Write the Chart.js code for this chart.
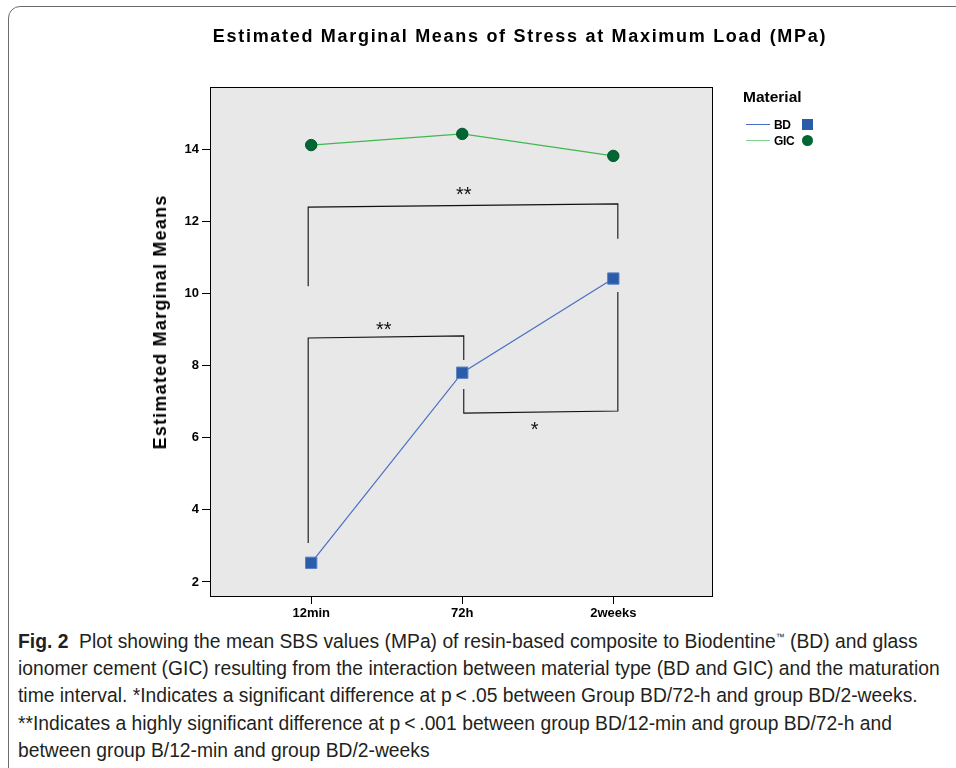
<!DOCTYPE html>
<html>
<head>
<meta charset="utf-8">
<script src="https://cdn.jsdelivr.net/npm/chart.js@4.4.1/dist/chart.umd.min.js"></script>
<style>
  html, body { margin: 0; padding: 0; background: #fff; }
  body { width: 956px; height: 768px; position: relative; overflow: hidden;
         font-family: 'Liberation Sans', Arial, sans-serif; color: #000; }
  #frame { position: absolute; left: 8px; top: 6px; width: 980px; height: 790px;
           border: 1px solid #6b6b6b; border-radius: 12px; }
  #wrap { position: absolute; left: 0; top: 0; width: 956px; height: 625px; }
  #title { position: absolute; left: 0; top: 25px; width: 1040px; text-align: center;
           font-weight: bold; font-size: 18px; line-height: 22px; letter-spacing: 1.7px; }
  #ytitle { position: absolute; left: 160px; top: 322px; white-space: nowrap;
            transform: translate(-50%, -50%) rotate(-90deg);
            font-weight: bold; font-size: 18px; line-height: 20px; letter-spacing: 1.2px; }
  #legend { position: absolute; left: 743px; top: 87px; font-weight: bold; }
  #legend .head { font-size: 15.5px; line-height: 20px; }
  #legend .row { position: relative; height: 16px; font-size: 12px; line-height: 16px; letter-spacing: -0.3px; }
  #legend .row .ln { position: absolute; left: 3px; top: 7px; width: 24px; height: 0; border-top: 1.5px solid; }
  #legend .row .lb { position: absolute; left: 31px; top: 0; }
  #legend .row .mk { position: absolute; left: 59px; top: 2px; width: 11px; height: 11px; }
  #caption { position: absolute; left: 18px; top: 628px; width: 940px;
             font-size: 19.3px; line-height: 27.2px; color: #231f20; white-space: nowrap; }
  #caption b { font-weight: bold; }
  #caption sup { font-size: 9px; vertical-align: 8px; line-height: 0; }
</style>
</head>
<body>
<div id="frame"></div>
<div id="wrap"><canvas id="emm" width="956" height="625"></canvas></div>
<div id="title">Estimated Marginal Means of Stress at Maximum Load (MPa)</div>
<div id="ytitle">Estimated Marginal Means</div>
<div id="legend">
  <div class="head">Material</div>
  <div class="row" style="margin-top:10px">
    <span class="ln" style="border-color:#4a70c4"></span><span class="lb">BD</span>
    <span class="mk" style="background:#2a5caa"></span>
  </div>
  <div class="row">
    <span class="ln" style="border-color:#7fd08a"></span><span class="lb">GIC</span>
    <span class="mk" style="background:#006633;border-radius:50%"></span>
  </div>
</div>
<div id="caption">
  <b>Fig. 2</b>&nbsp; Plot showing the mean SBS values (MPa) of resin-based composite to Biodentine<sup>™</sup> (BD) and glass<br>
  ionomer cement (GIC) resulting from the interaction between material type (BD and GIC) and the maturation<br>
  time interval. *Indicates a significant difference at p&thinsp;&lt;&thinsp;.05 between Group BD/72-h and group BD/2-weeks.<br>
  **Indicates a highly significant difference at p&thinsp;&lt;&thinsp;.001 between group BD/12-min and group BD/72-h and<br>
  between group B/12-min and group BD/2-weeks
</div>

<script>
// values
const categories = ['12min', '72h', '2weeks'];
const bdMeans = [2.53, 7.80, 10.41];
const gicMeans = [14.11, 14.42, 13.81];
const yTickValues = [2, 4, 6, 8, 10, 12, 14];

// significance brackets, in axis units (x = category index)
const bracketLong = [[-0.02, 10.20], [-0.02, 12.39], [2.03, 12.48], [2.03, 11.51]];
const bracketEarly = [[-0.02, 3.08], [-0.02, 8.76], [1.01, 8.82], [1.01, 8.15]];
const bracketLate = [[1.01, 7.35], [1.01, 6.68], [2.03, 6.74], [2.03, 10.04]];
const starText = ['**', '**', '*'];
const starX = [1.01, 0.48, 1.48];
const starY = [12.81, 9.09, 6.32];

Chart.defaults.font.family = "'Liberation Sans', Arial, sans-serif";
Chart.defaults.color = '#000';

const toPoints = (vals) => vals.map((v, i) => ({ x: i, y: v }));
const toPairs = (pairs) => pairs.map(p => ({ x: p[0], y: p[1] }));

const bracketStyle = {
  borderColor: '#111', borderWidth: 1.1, pointRadius: 0, tension: 0, fill: false,
};

// grey plot panel with black frame, like SPSS
const plotFrame = {
  id: 'plotFrame',
  beforeDatasetsDraw(chart) {
    const { ctx, chartArea: a } = chart;
    ctx.save();
    ctx.fillStyle = '#e8e8e8';
    ctx.fillRect(a.left, a.top, a.right - a.left, a.bottom - a.top);
    ctx.strokeStyle = '#000';
    ctx.lineWidth = 1;
    ctx.strokeRect(a.left + 0.5, a.top + 0.5, a.right - a.left - 1, a.bottom - a.top);
    ctx.restore();
  },
  afterDatasetsDraw(chart) {
    const { ctx, scales } = chart;
    ctx.save();
    ctx.fillStyle = '#111';
    ctx.font = "20px 'Liberation Sans', Arial, sans-serif";
    ctx.textAlign = 'center';
    ctx.textBaseline = 'middle';
    starText.forEach((t, i) => {
      ctx.fillText(t, scales.x.getPixelForValue(starX[i]), scales.y.getPixelForValue(starY[i]) + 4);
    });
    ctx.restore();
  },
};

new Chart(document.getElementById('emm'), {
  type: 'line',
  data: {
    datasets: [
      { label: 'bracketLong', data: toPairs(bracketLong), ...bracketStyle },
      { label: 'bracketEarly', data: toPairs(bracketEarly), ...bracketStyle },
      { label: 'bracketLate', data: toPairs(bracketLate), ...bracketStyle },
      {
        label: 'GIC', data: toPoints(gicMeans),
        borderColor: '#3fb84f', borderWidth: 1.2, tension: 0,
        pointStyle: 'circle', pointRadius: 5.7,
        pointBackgroundColor: '#006633', pointBorderColor: '#00552a', pointBorderWidth: 1,
      },
      {
        label: 'BD', data: toPoints(bdMeans),
        borderColor: '#4a70c4', borderWidth: 1.2, tension: 0,
        pointStyle: 'rect', pointRadius: 8,
        pointBackgroundColor: '#2a5caa', pointBorderColor: '#5a80c4', pointBorderWidth: 1,
      },
    ],
  },
  options: {
    responsive: false,
    animation: false,
    events: [],
    layout: { padding: { top: 87, right: 243, bottom: 0, left: 0 } },
    plugins: { legend: { display: false }, title: { display: false }, tooltip: { enabled: false } },
    scales: {
      x: {
        type: 'linear', min: -0.67, max: 2.66,
        afterBuildTicks: (s) => { s.ticks = categories.map((c, i) => ({ value: i })); },
        afterFit: (s) => { s.height = 29; },
        ticks: {
          callback: (v) => categories[v] ?? '',
          font: { size: 13, weight: 'bold' }, padding: 2, maxRotation: 0, autoSkip: false,
        },
        grid: { drawOnChartArea: false, drawTicks: true, tickLength: 8, color: '#000' },
        border: { display: false },
      },
      y: {
        type: 'linear', min: 1.61, max: 15.72,
        afterBuildTicks: (s) => { s.ticks = yTickValues.map(v => ({ value: v })); },
        afterFit: (s) => { s.width = 210; },
        ticks: { font: { size: 13, weight: 'bold' }, padding: 3 },
        grid: { drawOnChartArea: false, drawTicks: true, tickLength: 8, color: '#000' },
        border: { display: false },
      },
    },
  },
  plugins: [plotFrame],
});
</script>
</body>
</html>
